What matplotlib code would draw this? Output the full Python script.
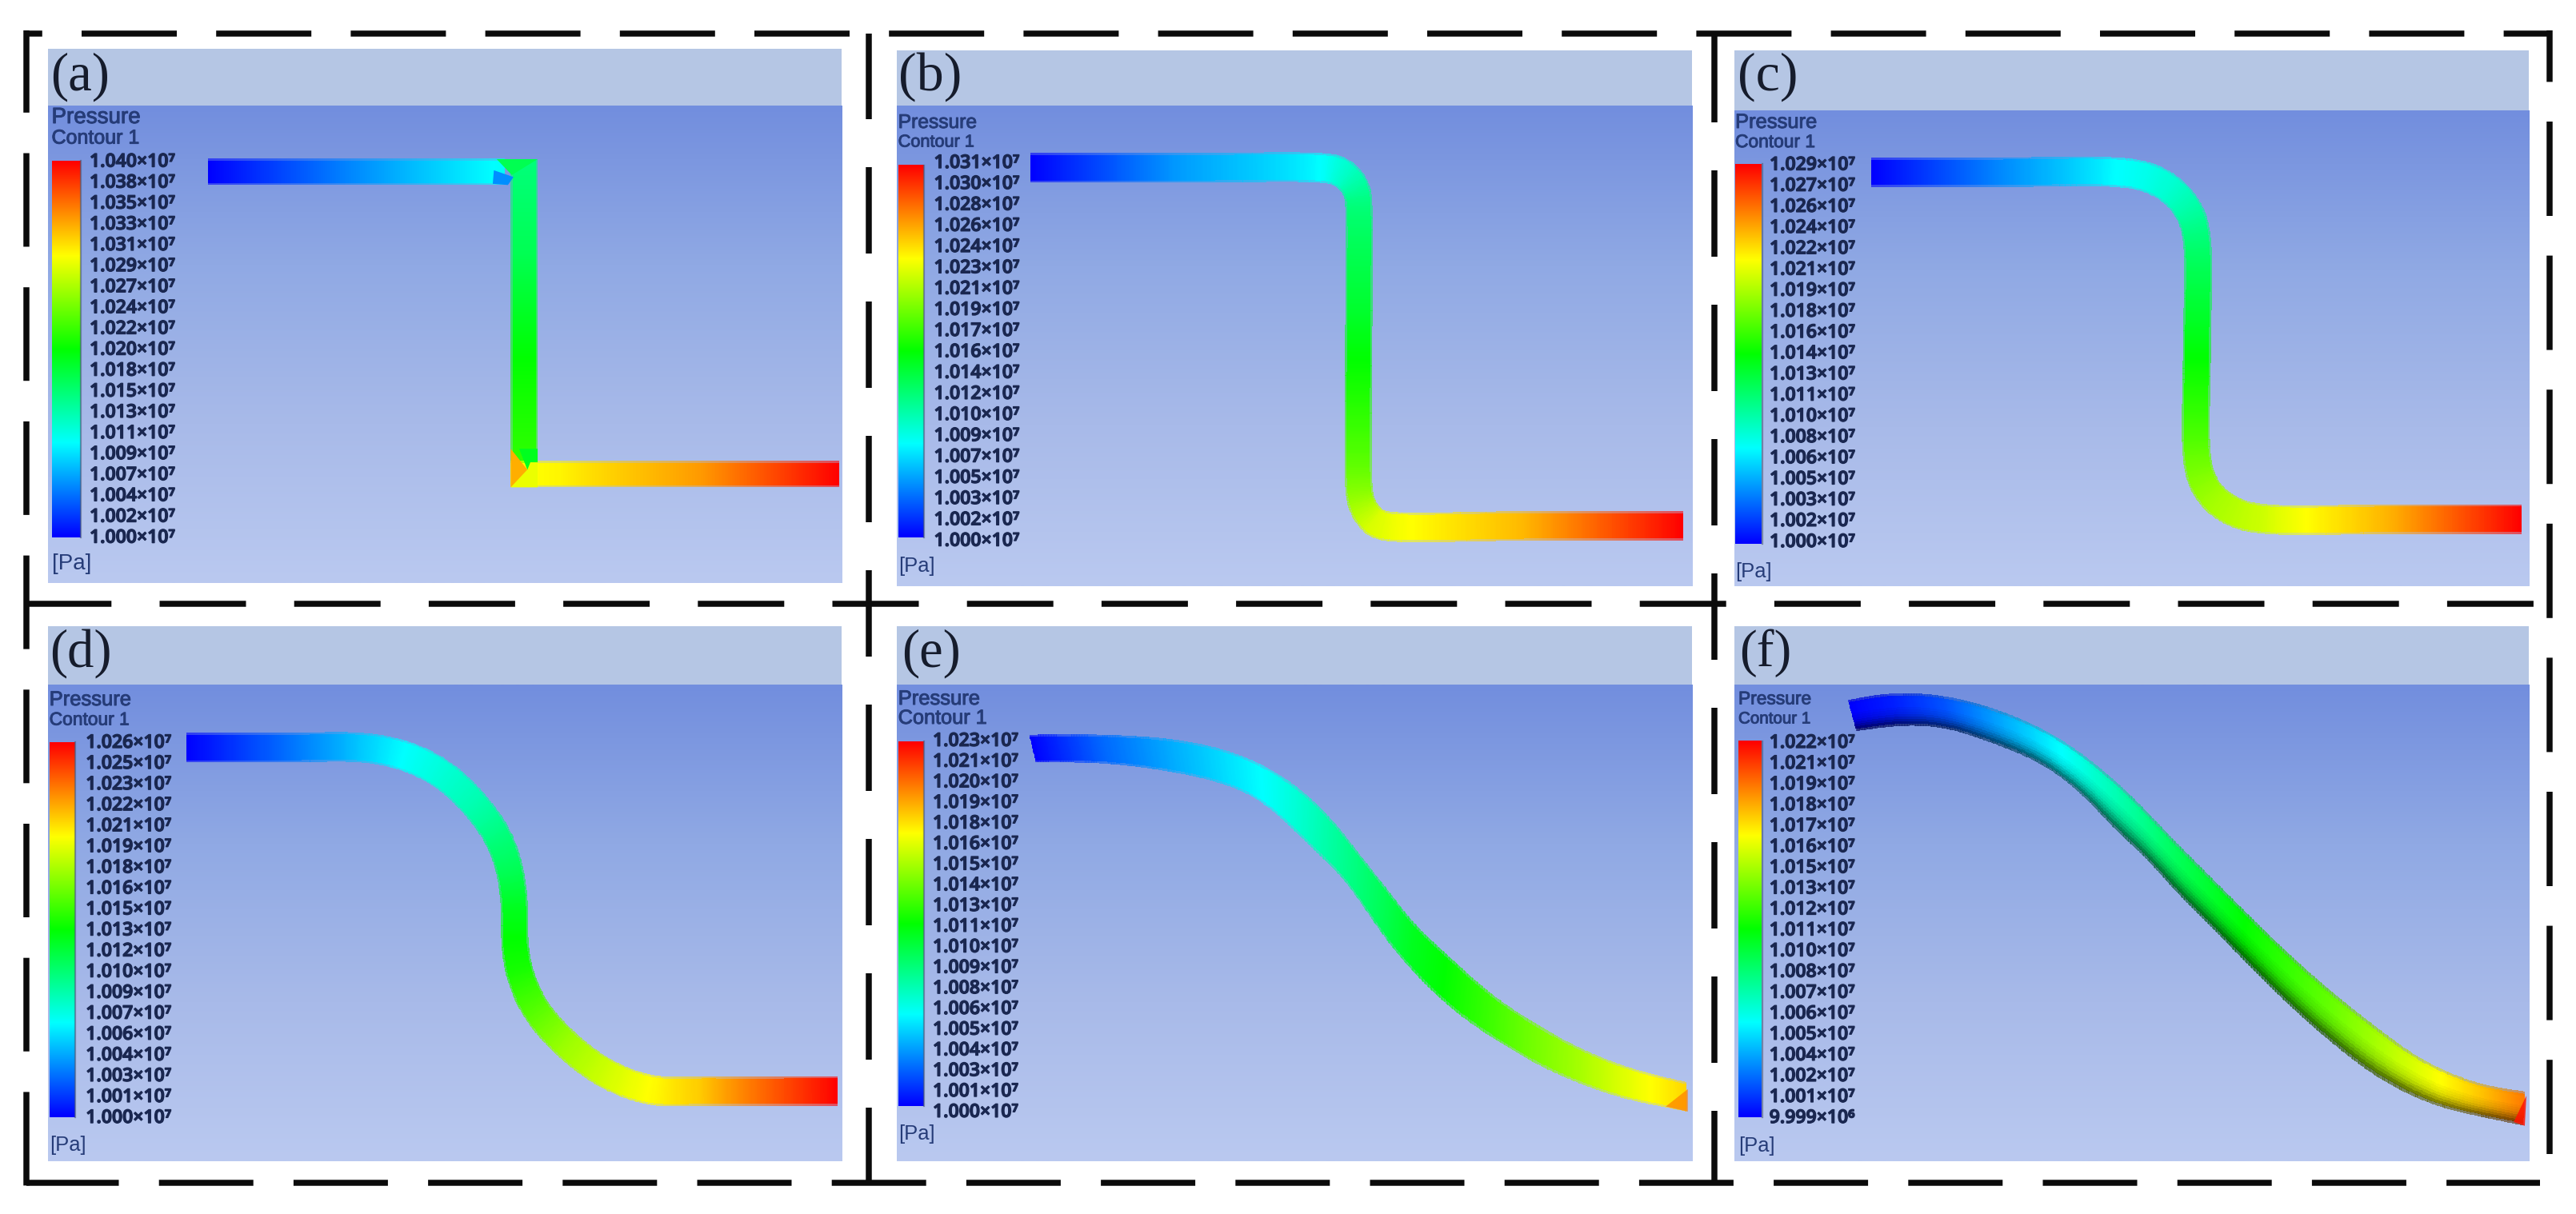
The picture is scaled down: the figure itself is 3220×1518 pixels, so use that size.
import numpy as np
import matplotlib
matplotlib.use("Agg")
import matplotlib.pyplot as plt
import matplotlib.patheffects as pe
from matplotlib.colors import LinearSegmentedColormap

plt.rcParams['lines.scale_dashes'] = False
plt.rcParams['font.family'] = ['Liberation Sans', 'DejaVu Sans']

# ---- legend labels -------------------------------------------------------
LABELS_A = ['1.040','1.038','1.035','1.033','1.031','1.029','1.027','1.024','1.022','1.020',
            '1.018','1.015','1.013','1.011','1.009','1.007','1.004','1.002','1.000']
LABELS_B = ['1.031','1.030','1.028','1.026','1.024','1.023','1.021','1.019','1.017','1.016',
            '1.014','1.012','1.010','1.009','1.007','1.005','1.003','1.002','1.000']
LABELS_C = ['1.029','1.027','1.026','1.024','1.022','1.021','1.019','1.018','1.016','1.014',
            '1.013','1.011','1.010','1.008','1.006','1.005','1.003','1.002','1.000']
LABELS_D = ['1.026','1.025','1.023','1.022','1.021','1.019','1.018','1.016','1.015','1.013',
            '1.012','1.010','1.009','1.007','1.006','1.004','1.003','1.001','1.000']
LABELS_E = ['1.023','1.021','1.020','1.019','1.018','1.016','1.015','1.014','1.013','1.011',
            '1.010','1.009','1.008','1.006','1.005','1.004','1.003','1.001','1.000']
LABELS_F = ['1.022','1.021','1.019','1.018','1.017','1.016','1.015','1.013','1.012','1.011',
            '1.010','1.008','1.007','1.006','1.005','1.004','1.002','1.001','9.999']

# ---- pipe centre lines / edges (panel-local read-off units) and pressure level
B_PATH = [(305,422),(570,422),(830,422),(857,428),(879,446),(895,482),(898,520),(898,800),(898,1220),
          (902,1260),(912,1290),(927,1313),(945,1322),(1200,1322),(1490,1322)]
B_LEVEL = [0,.15,.25,.28,.31,.35,.38,.46,.62,.65,.68,.71,.72,.82,1.0]
C_PATH = [(293,433),(520,433),(735,433),(790,445),(838,482),(868,536),(880,600),(880,880),(880,1150),
          (890,1210),(916,1260),(957,1293),(1005,1305),(1240,1305),(1472,1305)]
C_LEVEL = [0,.13,.25,.27,.30,.34,.38,.49,.60,.63,.66,.68,.70,.83,1.0]
D_PATH = [(335,362),(500,362),(650,362),(720,382),(790,432),(850,515),(890,600),(910,690),(917,780),
          (917,860),(925,940),(955,1040),(1010,1130),(1080,1205),(1160,1248),(1250,1250),(1495,1250)]
D_LEVEL = [0,.1,.2,.25,.29,.33,.38,.42,.47,.5,.52,.58,.65,.70,.75,.8,1.0]
E_TOP = [(303,328),(430,328),(560,340),(660,370),(740,420),(800,480),(850,550),(900,640),(950,730),
         (1000,820),(1060,900),(1130,990),(1200,1060),(1300,1140),(1400,1195),(1495,1228)]
E_BOT = [(315,400),(430,402),(540,420),(640,450),(710,490),(770,560),(820,630),(870,700),(915,790),
         (960,880),(1010,960),(1070,1040),(1150,1120),(1250,1200),(1370,1265),(1495,1303)]
E_LEVEL = [0,.1,.17,.22,.26,.3,.34,.38,.42,.47,.5,.55,.6,.66,.73,.79]
F_TOP = [(250,238),(330,220),(420,228),(520,265),(620,330),(700,410),(770,500),(830,590),(900,690),
         (970,790),(1050,900),(1130,1000),(1210,1090),(1290,1170),(1390,1230),(1478,1252)]
F_BOT = [(265,318),(340,305),(420,310),(510,350),(600,405),(670,480),(730,570),(790,650),(850,745),
         (910,830),(975,925),(1050,1030),(1130,1130),(1210,1215),(1310,1285),(1475,1340)]
F_LEVEL = [0,.03,.08,.16,.24,.3,.35,.4,.45,.5,.55,.6,.66,.72,.8,.88]
A_TOP_PIPE = [(370,432),(620,432),(900,432)]
A_TOP_LEVEL = [0,.13,.26]
A_MID_PIPE = [(934,400),(934,640),(934,900),(934,1180)]
A_MID_LEVEL = [.38,.42,.5,.55]
A_LOW_PIPE = [(910,1192),(1000,1192),(1250,1192),(1495,1192)]
A_LOW_LEVEL = [.74,.76,.85,1.0]

cmap = LinearSegmentedColormap.from_list('ansys', ['#0000ff','#00ffff','#00ff00','#ffff00','#ff0000'], N=512)
gradient_bg = LinearSegmentedColormap.from_list('bg', ['#728EDE','#90A9E4','#A8BAE9','#BAC9F0'])

fig = plt.figure(figsize=(32.2, 15.18), dpi=100, facecolor='white')
ax = fig.add_axes([0, 0, 1, 1])
ax.axis('off')


def catmull(pts, lev, per=24):
    p = np.asarray(pts, float)
    p = np.vstack([2*p[0]-p[1], p, 2*p[-1]-p[-2]])
    out, vals = [], []
    for i in range(1, len(p)-2):
        a, b, c, d = p[i-1], p[i], p[i+1], p[i+2]
        t0 = 0.0
        t1 = t0 + np.linalg.norm(b-a)**.5
        t2 = t1 + np.linalg.norm(c-b)**.5
        t3 = t2 + np.linalg.norm(d-c)**.5
        for t in np.linspace(t1, t2, per, endpoint=False):
            a1 = (t1-t)/(t1-t0)*a + (t-t0)/(t1-t0)*b
            a2 = (t2-t)/(t2-t1)*b + (t-t1)/(t2-t1)*c
            a3 = (t3-t)/(t3-t2)*c + (t-t2)/(t3-t2)*d
            b1 = (t2-t)/(t2-t0)*a1 + (t-t0)/(t2-t0)*a2
            b2 = (t3-t)/(t3-t1)*a2 + (t-t1)/(t3-t1)*a3
            out.append((t2-t)/(t2-t1)*b1 + (t-t1)/(t2-t1)*b2)
            vals.append(lev[i-1] + (lev[i]-lev[i-1])*(t-t1)/(t2-t1))
    out.append(p[-2]); vals.append(lev[-1])
    return np.array(out), np.array(vals)


def even(c, v, n, win):
    """resample evenly along arc length, then round off with a box filter"""
    s = np.r_[0, np.cumsum(np.linalg.norm(np.diff(c, axis=0), axis=1))]
    u = np.linspace(0, s[-1], n)
    q = np.c_[np.interp(u, s, c[:, 0]), np.interp(u, s, c[:, 1])]
    lv = np.interp(u, s, v)
    if win > 1:
        k = np.ones(win)/win
        for _ in range(2):
            pad = np.vstack([2*q[0]-q[win:0:-1], q, 2*q[-1]-q[-2:-win-2:-1]])
            q = np.c_[np.convolve(pad[:, 0], k, 'same'), np.convolve(pad[:, 1], k, 'same')][win:-win]
    return q, lv


def mesh(top, bot, lv, shade=None, zorder=3):
    a = np.linspace(0, 1, 15)[None, :, None]
    g = top[:, None, :]*(1-a) + bot[:, None, :]*a
    cell = (lv[:-1]+lv[1:])/2
    rgba = cmap(cell)[:, None, :].repeat(14, axis=1)
    mid = (np.linspace(0, 1, 15)[:-1]+np.linspace(0, 1, 15)[1:])/2
    if shade is not None:
        f = np.interp(mid, shade[0], shade[1])
        rgba[..., :3] *= f[None, :, None]
    rgba[:, 0, 3] = .6
    rgba[:, -1, 3] = .6
    ax.pcolormesh(g[..., 0], g[..., 1], rgba, shading='flat', zorder=zorder, antialiased=False)


def to_full(pts, tf):
    x0, sx, y0, sy = tf
    p = np.asarray(pts, float)
    return np.c_[x0 + p[:, 0]*sx, y0 + p[:, 1]*sy]


def center_pipe(pts, lev, tf, hx, hy, win=1, zorder=3):
    c, v = catmull(to_full(pts, tf), lev)
    c, v = even(c, v, 500, win)
    t = np.gradient(c, axis=0)
    t /= np.maximum(np.linalg.norm(t, axis=1, keepdims=True), 1e-9)
    off = np.c_[t[:, 1]*hx, -t[:, 0]*hy]
    mesh(c+off, c-off, v, zorder=zorder)


def edge_pipe(topp, botp, lev, tf, shade=None, win=30):
    t, v = catmull(to_full(topp, tf), lev)
    b, w = catmull(to_full(botp, tf), lev)
    t, v = even(t, v, 500, win)
    b, w = even(b, w, 500, win)
    mesh(t, b, v, shade=shade)


def panel(box, band_y, bar, lab_x, lab_y, labels, tx, ty_p, ty_c, ty_u, fs_p, fs_c, fs_u, letter, let_x, let_y, let_fs, cx=None, power='⁷'):
    x0, x1, y0, y1 = box
    ax.imshow(np.linspace(0, 1, 256)[:, None], extent=[x0, x1, y1, band_y], cmap=gradient_bg,
              aspect='auto', zorder=1, interpolation='bilinear')
    ax.fill_between([x0, x1], y0, band_y, color='#B5C6E4', lw=0, zorder=1)
    bx0, bx1, by0, by1 = bar
    ax.imshow(np.linspace(1, 0, 256)[:, None], extent=[bx0, bx1, by1, by0], cmap=cmap, vmin=0, vmax=1,
              aspect='auto', zorder=2, interpolation='bilinear')
    ax.plot([bx1+1, bx1+1], [by0, by1], color='#4A5A7A', lw=1.6, alpha=.6, zorder=2)
    bold = [pe.withStroke(linewidth=1.0, foreground='#1A2750')]
    for y, s in zip(np.linspace(lab_y[0], lab_y[1], len(labels)), labels):
        p = '⁶' if s.startswith('9') else power
        ax.text(lab_x, y, f'{s}×10{p}', ha='left', va='center', fontsize=16.6, color='#1A2750',
                family=['Open Sans', 'DejaVu Sans'], weight='semibold', zorder=5, path_effects=bold)
    col = '#263C78'
    thick = [pe.withStroke(linewidth=.7, foreground=col)]
    ax.text(tx, ty_p, 'Pressure', ha='left', va='center', fontsize=fs_p, color=col, zorder=5, path_effects=thick)
    ax.text(cx if cx else tx, ty_c, 'Contour 1', ha='left', va='center', fontsize=fs_c, color=col, zorder=5, path_effects=thick)
    ax.text(tx, ty_u, '[Pa]', ha='left', va='center', fontsize=fs_u, color=col, zorder=5)
    ax.text(let_x, let_y, letter, ha='left', va='center', fontsize=let_fs, color='#161C2C',
            family=['Liberation Serif', 'DejaVu Serif'], zorder=5)


LEFT = (0, 1100/1568)
MIDC = (1080, 1080/1568)
RIGHT = (2140, 1080/1568)
UPPER = (0, 780/1568)
LOWER = (760, 758/1568)

panel((60, 1052, 61, 729), 132, (64.5, 99.6, 201, 672), 112, (202.5, 672.6), LABELS_A, 64.5, 147, 172.6, 705, 20, 18, 20, '(a)', 63, 96, 48)
panel((1121, 2115, 63, 733), 132, (1122.7, 1154.4, 206.5, 672), 1167.5, (204, 676.6), LABELS_B, 1122.7, 153, 178, 707.5, 17.7, 15.6, 18.4, '(b)', 1122.7, 96, 49)
panel((2168, 3161, 63, 733), 138, (2169, 2202, 205, 680), 2212, (206.5, 678), LABELS_C, 2169, 153, 177.6, 715, 18.4, 16.4, 18.4, '(c)', 2172, 96, 49)
panel((60, 1052, 783, 1452), 856, (61.7, 93.3, 927.7, 1396.6), 107.3, (929, 1398), LABELS_D, 61.7, 875, 900, 1432, 18.4, 16.4, 18.4, '(d)', 61.7, 817, 48)
panel((1121, 2115, 783, 1452), 856, (1122.7, 1154.4, 926.8, 1382.6), 1166, (926.8, 1390.8), LABELS_E, 1122.7, 874, 898, 1418, 18.4, 18.2, 18.4, '(e)', 1127, 817, 48)
panel((2168, 3161, 783, 1452), 856, (2173, 2202, 926.8, 1397), 2211.7, (929, 1398), LABELS_F, 2173, 874, 899, 1433, 16.4, 14.8, 18.4, '(f)', 2174.5, 817, 47)

# panel (a): three straight legs with mitred corners
tfa = (LEFT[0], LEFT[1], UPPER[0], UPPER[1])
center_pipe(A_MID_PIPE, A_MID_LEVEL, tfa, 17, 0, zorder=3)
center_pipe(A_TOP_PIPE, A_TOP_LEVEL, tfa, 0, 16.5, zorder=3)
center_pipe(A_LOW_PIPE, A_LOW_LEVEL, tfa, 0, 16.5, zorder=3)
A_WEDGES = [([(885, 400), (958, 400), (912, 440)], .42),
            ([(880, 428), (915, 445), (905, 465), (878, 462)], .14),
            ([(925, 1128), (958, 1128), (958, 1163), (940, 1182)], .47),
            ([(910, 1128), (945, 1190), (910, 1225)], .83),
            ([(945, 1162), (958, 1162), (958, 1225), (910, 1225), (940, 1180)], .73)]
for w, lv in A_WEDGES:
    q = to_full(w, tfa)
    ax.fill(q[:, 0], q[:, 1], color=cmap(lv), lw=0, zorder=4)

tfb = (MIDC[0], MIDC[1], UPPER[0], UPPER[1])
tfc = (RIGHT[0], RIGHT[1], UPPER[0], UPPER[1])
tfd = (LEFT[0], LEFT[1], LOWER[0], LOWER[1])
tfe = (MIDC[0], MIDC[1], LOWER[0], LOWER[1])
tff = (RIGHT[0], RIGHT[1], LOWER[0], LOWER[1])
center_pipe(B_PATH, B_LEVEL, tfb, 17, 18.5, win=6)
center_pipe(C_PATH, C_LEVEL, tfc, 17.5, 18.5, win=10)
center_pipe(D_PATH, D_LEVEL, tfd, 17, 18.5, win=14)
edge_pipe(E_TOP, E_BOT, E_LEVEL, tfe, win=20)
edge_pipe(F_TOP, F_BOT, F_LEVEL, tff, win=20,
          shade=([0, .12, .4, .65, .85, 1], [.8, 1, 1, .88, .6, .3]))
TIP_E = [(1495, 1245), (1495, 1303), (1455, 1290)]
TIP_F = [(1478, 1262), (1475, 1340), (1455, 1330)]
q = to_full(TIP_E, tfe)
ax.fill(q[:, 0], q[:, 1], color=cmap(.87), lw=0, alpha=.75, zorder=4)
q = to_full(TIP_F, tff)
ax.fill(q[:, 0], q[:, 1], color=cmap(.98), lw=0, alpha=.85, zorder=4)

# dashed frame
LW = 7.5*.72
def dash(x0, y0, x1, y1, on, off, offset=0):
    ax.plot([x0, x1], [y0, y1], color='#0B0B0B', lw=LW, zorder=6, solid_capstyle='butt',
            dash_capstyle='butt', linestyle=(offset*.72, (on*.72, off*.72)))

dash(33, 42, 3190, 42, 119, 49.2, 99.2)
dash(33, 755, 3167, 755, 108, 60.2, 1.7)
dash(33, 1479, 3175, 1479, 118, 50.2, 2.5)
dash(33, 38, 33, 1483, 117, 50.7, 14.2)
dash(1086, 42, 1086, 1479, 108, 60, 1)
dash(2143, 45, 2143, 1479, 108, 60)
dash(3187, 38, 3187, 1443, 118, 49.6, 53.6)

ax.set_xlim(0, 3220)
ax.set_ylim(1518, 0)
fig.savefig('out.png', dpi=100, facecolor='white')
